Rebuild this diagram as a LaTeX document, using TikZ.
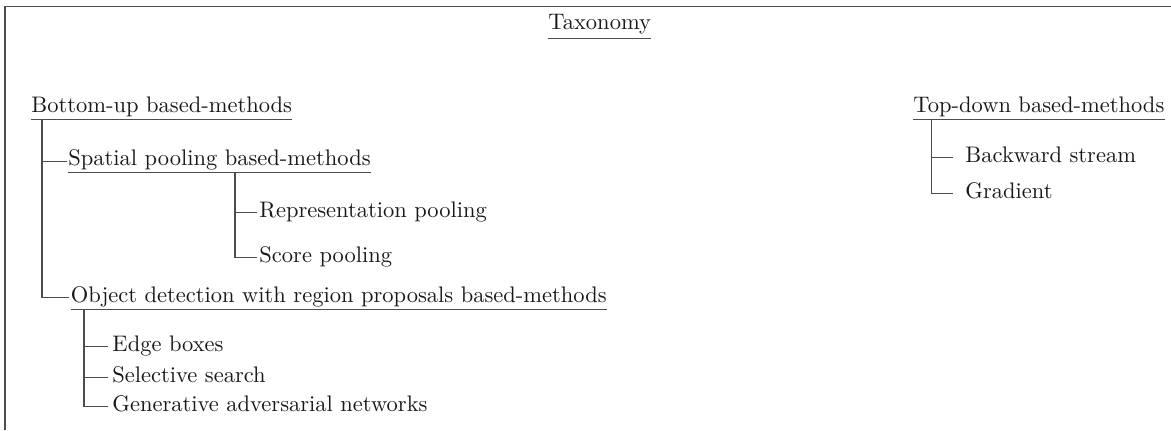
\documentclass[tikz,border=0pt]{standalone}
\begin{document}
\begin{tikzpicture}[x=0.4444pt,y=-0.4444pt,
  ln/.style={draw=black!70, line width=0.45pt},
  hd/.style={inner xsep=0pt, inner ysep=0pt, text depth=2.8pt, anchor=base west, text=black!90},
  lf/.style={inner xsep=0pt, inner ysep=0pt, anchor=base west, text=black!90}]
\useasboundingbox (0,0) rectangle (1171,430);
\draw[ln] (5,430) -- (5,6) -- (1171,6);
% nodes
\node[hd, text depth=3.9pt] (tax) at (548,29.5) {Taxonomy};
\node[hd] (bu) at (31,112.7) {Bottom-up based-methods};
\node[hd] (td) at (913,112.5) {Top-down based-methods};
\node[hd] (sp) at (68,165.5) {Spatial pooling based-methods};
\node[lf] (rp) at (259,217.5) {Representation pooling};
\node[lf] (sc) at (259,262) {Score pooling};
\node[hd] (od) at (70.5,302.5) {Object detection with region proposals based-methods};
\node[lf] (eb) at (112,351) {Edge boxes};
\node[lf] (ss) at (112,382) {Selective search};
\node[lf] (ga) at (112,411.5) {Generative adversarial networks};
\node[lf] (bs) at (965,162) {Backward stream};
\node[lf] (gr) at (965,198) {Gradient};
% underlines
\foreach \n in {tax,bu,td,sp,od} \draw[ln] (\n.south west) -- (\n.south east);
% connectors
\draw[ln] ([shift={(11,0)}]bu.south west) |- ([shift={(-1,-4)}]sp.base west);
\draw[ln] ([shift={(11,0)}]bu.south west) |- ([shift={(-2,-5)}]od.base west);
\draw[ln] ([shift={(167,0)}]sp.south west) |- ([shift={(-2,-5)}]rp.base west);
\draw[ln] ([shift={(167,0)}]sp.south west) |- ([shift={(-2,-5)}]sc.base west);
\draw[ln] ([shift={(13.5,0)}]od.south west) |- ([shift={(-4,-5)}]eb.base west);
\draw[ln] ([shift={(13.5,0)}]od.south west) |- ([shift={(-4,-5)}]ss.base west);
\draw[ln] ([shift={(13.5,0)}]od.south west) |- ([shift={(-4,-5)}]ga.base west);
\draw[ln] ([shift={(18,0)}]td.south west) |- ([shift={(-12,-5)}]bs.base west);
\draw[ln] ([shift={(18,0)}]td.south west) |- ([shift={(-12,-5)}]gr.base west);
\end{tikzpicture}
\end{document}
